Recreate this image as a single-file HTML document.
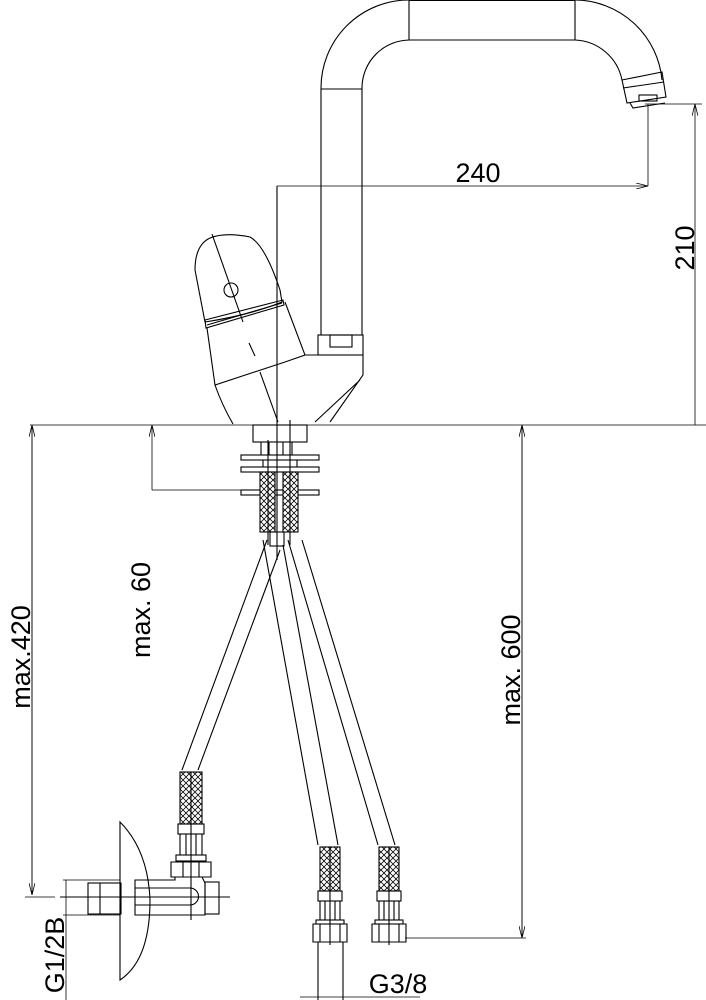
<!DOCTYPE html>
<html><head><meta charset="utf-8"><style>
html,body{margin:0;padding:0;background:#fff;}
svg{display:block}
text{font-family:"Liberation Sans",sans-serif;fill:#000}
</style></head><body>
<svg width="706" height="1000" viewBox="0 0 706 1000" xmlns="http://www.w3.org/2000/svg">
<defs>
<pattern id="hatch" width="6" height="6" patternUnits="userSpaceOnUse">
<rect width="6" height="6" fill="#fff"/>
<path d="M0 3 L3 0 M3 6 L6 3 M0 3 L3 6 M3 0 L6 3" stroke="#000" stroke-width="0.8"/>
</pattern>
<marker id="ar" markerWidth="12" markerHeight="6" refX="12" refY="3" orient="auto" markerUnits="userSpaceOnUse">
<path d="M0 0 L12 3 L0 6" fill="none" stroke="#000" stroke-width="0.8"/>
</marker>
</defs>
<g fill="none" stroke="#000" stroke-width="1.1">
<path d="M321 335 L321 88 A88 88 0 0 1 409 0"/>
<path d="M362 335 L362 88 A48 48 0 0 1 410 40 L575 40 A50 50 0 0 1 622 80"/>
<path d="M575 0 A88 88 0 0 1 662 80"/>
<line x1="409" y1="0.5" x2="575" y2="0.5"/>
<line x1="409" y1="0" x2="409" y2="40"/><line x1="575" y1="0" x2="575" y2="40"/>
<line x1="321" y1="89" x2="362" y2="89"/>
<path d="M622 80 L662 72 L666 97 L627 103 Z"/>
<line x1="623" y1="88" x2="664" y2="82"/>
<path d="M630 103 L633 108 L665 103"/>
<rect x="639" y="95" width="18" height="6"/>
<rect x="318" y="335" width="45" height="20"/>
<rect x="330" y="335" width="22" height="12"/>
<path d="M318 355 L305 355 M363 355 L363 375 L330 422 M360 380 L315 422"/>
<path d="M205 322 L195 270 Q195 245 210 238 Q225 232 250 237 Q265 245 280 290 L282 302 Q250 315 205 322 Z"/>
<path d="M205 320 L283 300 L284 305 L206 328 Z"/>
<line x1="207" y1="325" x2="282" y2="303"/>
<path d="M207 328 L215 385 L285 362 L305 355 L285 302"/>
<path d="M215 385 Q222 405 233 424 M260 372 L278 422"/>
<line x1="249" y1="343" x2="255" y2="356"/>
<circle cx="231" cy="290" r="7"/>
<line x1="212" y1="234" x2="243" y2="322"/>
<rect x="253" y="425" width="54" height="17"/>
<rect x="241" y="455" width="78" height="5"/>
<rect x="241" y="467" width="78" height="5"/>
<rect x="241" y="490" width="78" height="5"/>
<path d="M261 442 L261 455 M269 442 L269 455 M283 442 L283 455 M292 442 L292 455 M263 460 L263 467 M297 460 L297 467"/>
<rect x="260" y="472" width="15" height="60" fill="url(#hatch)"/>
<rect x="283" y="472" width="15" height="60" fill="url(#hatch)"/>
<rect x="270" y="532" width="14" height="14"/>
<line x1="277" y1="186" x2="277" y2="560"/>
<line x1="268" y1="440" x2="268" y2="545"/>
<line x1="290" y1="420" x2="290" y2="545"/>
<line x1="267" y1="540" x2="182" y2="770"/><line x1="280" y1="550" x2="198" y2="770"/>
<line x1="263" y1="540" x2="318" y2="845"/><line x1="283" y1="545" x2="338" y2="845"/>
<line x1="288" y1="540" x2="378" y2="845"/><line x1="302" y1="540" x2="395" y2="845"/>
<rect x="180" y="772" width="22" height="52" fill="url(#hatch)"/>
<line x1="191" y1="772" x2="191" y2="920"/>
<rect x="178" y="824" width="26" height="10"/>
<path d="M180 834 L180 855 M202 834 L202 855 M186 834 L186 855 M196 834 L196 855"/>
<rect x="176" y="855" width="30" height="6"/>
<path d="M171 862 L211 862 L211 877 L171 877 Z M183 862 L183 877 M199 862 L199 877"/>
<path d="M175 877 L175 880 L135 880 L135 915 L205 915 L205 883 L202 877"/>
<path d="M135 888 L190 888 A8 8 0 0 1 190 905 L135 905"/>
<rect x="205" y="882" width="14" height="32"/>
<path d="M120 822 Q148 850 150 900 Q150 960 120 980 Z"/>
<rect x="88" y="883" width="33" height="31"/>
<line x1="100" y1="883" x2="100" y2="914"/>
<line x1="60" y1="897" x2="230" y2="897"/>
<rect x="320" y="847" width="20" height="44" fill="url(#hatch)"/>
<line x1="330" y1="847" x2="330" y2="945"/>
<rect x="318" y="891" width="24" height="10"/>
<path d="M320 901 L320 920 M340 901 L340 920 M325 901 L325 920 M335 901 L335 920"/>
<rect x="316" y="920" width="28" height="4"/>
<path d="M313 924 L347 924 L347 942 L313 942 Z M320 924 L320 942 M340 924 L340 942"/>
<line x1="318" y1="942" x2="318" y2="1000"/><line x1="343" y1="942" x2="343" y2="1000"/>
<rect x="379" y="847" width="20" height="44" fill="url(#hatch)"/>
<line x1="389" y1="847" x2="389" y2="945"/>
<rect x="377" y="891" width="24" height="10"/>
<path d="M379 901 L379 920 M399 901 L399 920 M384 901 L384 920 M394 901 L394 920"/>
<rect x="375" y="920" width="28" height="4"/>
<path d="M372 924 L406 924 L406 942 L372 942 Z M379 924 L379 942 M399 924 L399 942"/>
</g>
<g fill="none" stroke="#000" stroke-width="0.8">
<line x1="30" y1="425" x2="706" y2="425"/>
<line x1="277" y1="186" x2="648" y2="186" marker-end="url(#ar)"/>
<line x1="648" y1="104" x2="648" y2="186"/>
<line x1="645" y1="104" x2="702" y2="104"/>
<line x1="695" y1="425" x2="695" y2="104" marker-end="url(#ar)"/>
<line x1="32" y1="895" x2="32" y2="425" marker-end="url(#ar)"/>
<line x1="32" y1="425" x2="32" y2="895" marker-end="url(#ar)"/>
<line x1="25" y1="897" x2="55" y2="897"/>
<line x1="152" y1="490" x2="152" y2="425" marker-end="url(#ar)"/>
<line x1="152" y1="490" x2="255" y2="490"/>
<line x1="522" y1="938" x2="522" y2="425" marker-end="url(#ar)"/>
<line x1="522" y1="425" x2="522" y2="938" marker-end="url(#ar)"/>
<line x1="405" y1="938" x2="526" y2="938"/>
<line x1="66" y1="880" x2="66" y2="1000"/>
<line x1="63" y1="880" x2="120" y2="880"/>
<line x1="63" y1="915" x2="120" y2="915"/>
<line x1="300" y1="997" x2="420" y2="997"/>
</g>
<text x="478" y="182" font-size="27" text-anchor="middle">240</text>
<text transform="translate(694 248) rotate(-90)" font-size="27" text-anchor="middle">210</text>
<text transform="translate(30 657) rotate(-90)" font-size="27" text-anchor="middle">max.420</text>
<text transform="translate(150 610) rotate(-90)" font-size="27" text-anchor="middle">max. 60</text>
<text transform="translate(520 670) rotate(-90)" font-size="27" text-anchor="middle">max. 600</text>
<text transform="translate(64 955) rotate(-90)" font-size="27" text-anchor="middle">G1/2B</text>
<text x="398" y="993" font-size="27" text-anchor="middle">G3/8</text>
</svg>
</body></html>
